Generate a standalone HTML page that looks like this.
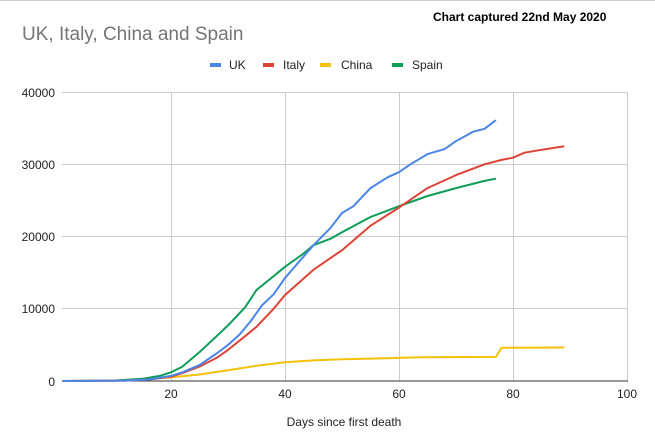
<!DOCTYPE html>
<html><head><meta charset="utf-8"><style>
html,body{margin:0;padding:0;background:#fff;}
body{width:655px;height:431px;overflow:hidden;position:relative;font-family:"Liberation Sans",Arial,sans-serif;}
svg text{font-family:"Liberation Sans",Arial,sans-serif;}
</style></head><body>
<svg id="s" width="655" height="431" xmlns="http://www.w3.org/2000/svg">
<rect x="0" y="0" width="655" height="431" fill="#fff"/>
<line x1="0" y1="0.5" x2="655" y2="0.5" stroke="#ccc"/>
<text x="433" y="21" font-size="12" font-weight="bold" fill="#000">Chart captured 22nd May 2020</text>
<text x="22" y="40" font-size="19" fill="#757575">UK, Italy, China and Spain</text>
<g font-size="12" fill="#222">
<rect x="210" y="63" width="11" height="4" fill="#4a86e8"/><text x="229" y="69">UK</text>
<rect x="263" y="63" width="11" height="4" fill="#db4437"/><text x="283" y="69">Italy</text>
<rect x="320" y="63" width="11" height="4" fill="#f4c20d"/><text x="341" y="69">China</text>
<rect x="392" y="63" width="11" height="4" fill="#0f9d58"/><text x="412" y="69">Spain</text>
</g>
<g stroke="#ccc" stroke-width="1">
<line x1="62" y1="92.5" x2="627" y2="92.5"/><line x1="62" y1="164.5" x2="627" y2="164.5"/>
<line x1="62" y1="236.5" x2="627" y2="236.5"/><line x1="62" y1="308.5" x2="627" y2="308.5"/>
<line x1="171.5" y1="92" x2="171.5" y2="381"/><line x1="285.5" y1="92" x2="285.5" y2="381"/>
<line x1="399.5" y1="92" x2="399.5" y2="381"/><line x1="513.5" y1="92" x2="513.5" y2="381"/>
<line x1="627.5" y1="92" x2="627.5" y2="381"/>
</g>
<line x1="62" y1="381" x2="628" y2="381" stroke="#333" stroke-width="1"/>
<g font-size="12" fill="#222" text-anchor="end">
<text x="55" y="97">40000</text><text x="55" y="169">30000</text><text x="55" y="241">20000</text>
<text x="55" y="313">10000</text><text x="55" y="386">0</text>
</g>
<g font-size="12" fill="#222" text-anchor="middle">
<text x="171" y="398">20</text><text x="285" y="398">40</text><text x="399" y="398">60</text>
<text x="513" y="398">80</text><text x="627" y="398">100</text>
<text x="344" y="426">Days since first death</text>
</g>
<g id="lines" fill="none" stroke-width="2" stroke-linejoin="round"></g>
</svg>
<script>
var X=function(d){return 57+5.7*d},Y=function(v){return 381-v*289/40000};
var S={
"#f4c20d":[[1,0],[10,50],[15,250],[20,500],[25,900],[30,1500],[35,2100],[40,2600],[45,2850],[50,3000],[55,3100],[60,3200],[64,3300],[77,3330],[78,4600],[89,4630]],
"#0f9d58":[[1,0],[10,50],[15,300],[18,700],[20,1200],[22,2000],[25,4000],[28,6200],[30,7700],[33,10200],[35,12600],[38,14500],[40,15800],[43,17500],[45,18800],[48,19700],[50,20600],[55,22700],[60,24200],[65,25600],[70,26700],[75,27700],[77,28000]],
"#db4437":[[1,0],[12,50],[16,200],[20,600],[22,1100],[25,2000],[28,3200],[30,4300],[33,6200],[35,7500],[38,10000],[40,11900],[43,14000],[45,15400],[50,18100],[55,21500],[60,24000],[65,26700],[70,28500],[75,30000],[78,30600],[80,30900],[82,31600],[85,32000],[89,32500]],
"#4a86e8":[[1,0],[12,50],[16,200],[20,700],[22,1200],[25,2200],[28,3800],[30,5000],[32,6400],[34,8300],[36,10500],[38,12000],[40,14250],[43,17000],[45,18800],[48,21200],[50,23250],[52,24200],[55,26700],[58,28200],[60,28900],[62,30000],[65,31400],[68,32100],[70,33200],[73,34500],[75,34900],[77,36100]]};
var g=document.getElementById('lines'),h='';
for(var c in S){h+='<polyline stroke="'+c+'" points="'+S[c].map(function(p){return X(p[0]).toFixed(1)+','+Y(p[1]).toFixed(1)}).join(' ')+'"/>';}
g.innerHTML=h;
</script>
</body></html>
